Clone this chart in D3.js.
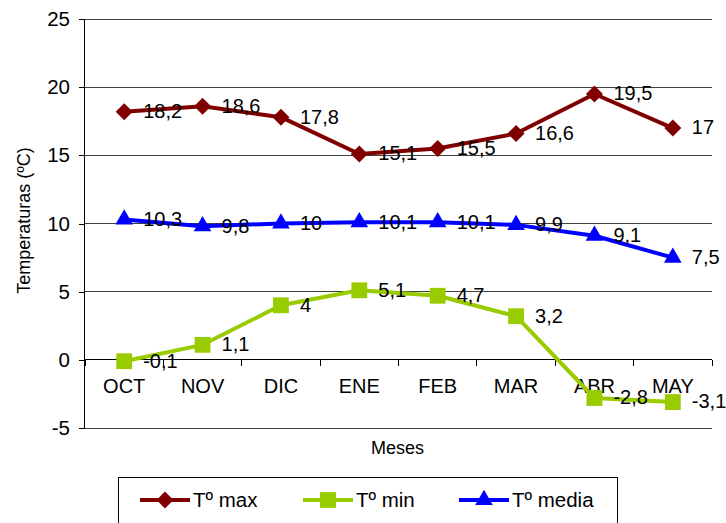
<!DOCTYPE html>
<html><head><meta charset="utf-8">
<script src="https://cdn.jsdelivr.net/npm/d3@7"></script>
<style>body{margin:0;background:#fff}svg{display:block;font-family:Arial,"Liberation Sans",sans-serif}</style>
</head><body><svg id="c" width="726" height="523"></svg>
<script>
const months = ["OCT","NOV","DIC","ENE","FEB","MAR","ABR","MAY"];
const tMax = [18.2,18.6,17.8,15.1,15.5,16.6,19.5,17];
const tMin = [-0.1,1.1,4,5.1,4.7,3.2,-2.8,-3.1];
const tMedia = [10.3,9.8,10,10.1,10.1,9.9,9.1,7.5];
const yTicks = [-5,0,5,10,15,20,25];
const seriesNames = ["Tº max","Tº min","Tº media"];
const seriesColors = ["#800000","#99CC00","#0000FF"];
const seriesShapes = [d3.symbolDiamond2, d3.symbolSquare, d3.symbolTriangle];

const svg = d3.select("#c");
const L=85, R=712, T=19, B=428;
const x = d3.scaleBand().domain(months).range([L,R]);
const y = d3.scaleLinear().domain([-5,25]).range([B,T]);

// gridlines
svg.append("g").selectAll("line").data(yTicks).join("line")
  .attr("x1",L).attr("x2",R).attr("y1",d=>y(d)).attr("y2",d=>y(d))
  .attr("stroke","#404040").attr("stroke-width",1).attr("shape-rendering","crispEdges");

// y axis
const ya = svg.append("g").attr("transform",`translate(${L},0)`)
  .call(d3.axisLeft(y).tickValues(yTicks).tickSize(6).tickPadding(9).tickFormat(d=>String(d)));
ya.select(".domain").attr("stroke","#000").attr("d",`M-0.5,${T}V${B}`).attr("shape-rendering","crispEdges");
ya.selectAll(".tick line").attr("stroke","#000").attr("shape-rendering","crispEdges");
ya.selectAll("text").attr("font-size",20.5).attr("fill","#000").attr("font-family","Arial,'Liberation Sans',sans-serif");

// x axis at zero
const xa = svg.append("g").attr("transform",`translate(0,${y(0)})`);
xa.append("line").attr("x1",L).attr("x2",R).attr("stroke","#000").attr("shape-rendering","crispEdges");
const bounds = months.map((m,i)=>x(m)).concat([R]);
xa.selectAll(".tk").data(bounds).join("line").attr("class","tk")
  .attr("x1",d=>d).attr("x2",d=>d).attr("y1",0).attr("y2",6).attr("stroke","#000").attr("shape-rendering","crispEdges");
xa.selectAll(".lb").data(months).join("text").attr("class","lb")
  .attr("x",d=>x(d)+x.bandwidth()/2).attr("y",33).attr("text-anchor","middle")
  .attr("font-size",20).text(d=>d);

// titles
svg.append("text").attr("transform",`translate(30,${(T+B)/2-3}) rotate(-90)`).attr("text-anchor","middle")
  .attr("font-size",18).text("Temperaturas (ºC)");
svg.append("text").attr("x",(L+R)/2-1).attr("y",454).attr("text-anchor","middle").attr("font-size",18).text("Meses");

const data = [tMax,tMin,tMedia];
const cx = i => x(months[i])+x.bandwidth()/2;
const line = d3.line().x((d,i)=>cx(i)).y(d=>y(d));
const sizes = [185,250,135];
data.forEach((vals,s)=>{
  svg.append("path").datum(vals).attr("d",line).attr("fill","none")
    .attr("stroke",seriesColors[s]).attr("stroke-width",4).attr("stroke-linejoin","round");
  svg.append("g").selectAll("path").data(vals).join("path")
    .attr("transform",(d,i)=>`translate(${cx(i)},${y(d)})`)
    .attr("d",d3.symbol().type(seriesShapes[s]).size(sizes[s])).attr("fill",seriesColors[s]);
});
data.forEach((vals,s)=>{
  svg.append("g").selectAll("text").data(vals).join("text")
    .attr("x",(d,i)=>cx(i)+19).attr("y",d=>y(d)).attr("dy","0.32em")
    .attr("font-size",20).attr("fill","#000").text(d=>String(d).replace(".",","));
});

// legend
const lg = svg.append("g");
lg.append("rect").attr("x",118.5).attr("y",477.5).attr("width",499).attr("height",60)
  .attr("fill","#fff").attr("stroke","#000");
const lx = [140,303,459];
seriesNames.forEach((n,s)=>{
  lg.append("line").attr("x1",lx[s]).attr("x2",lx[s]+50).attr("y1",500).attr("y2",500)
    .attr("stroke",seriesColors[s]).attr("stroke-width",4);
  lg.append("path").attr("transform",`translate(${lx[s]+25},500)`)
    .attr("d",d3.symbol().type(seriesShapes[s]).size(sizes[s])).attr("fill",seriesColors[s]);
  lg.append("text").attr("x",lx[s]+53).attr("y",500).attr("dy","0.35em").attr("font-size",20.5).text(n);
});
</script></body></html>
